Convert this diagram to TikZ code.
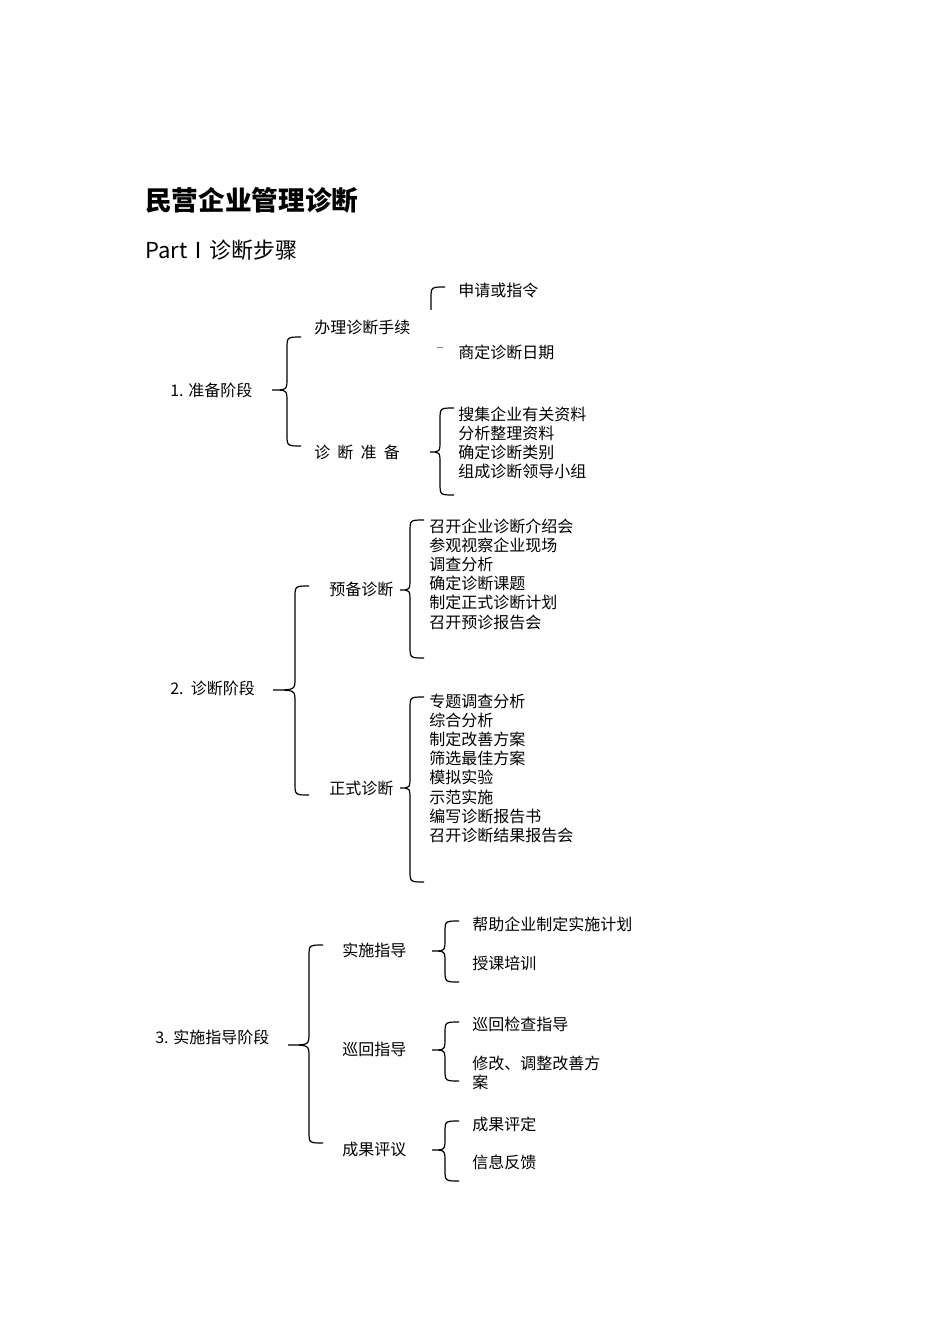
\documentclass[tikz,border=0pt]{standalone}
\usepackage{fontspec}
\setmainfont{Noto Sans CJK SC}
\newcommand\mybrace[5]{% xl, y1, ym, y2, tipdx
 \draw[br] (#1+14,#2) .. controls (#1,#2) .. (#1,#2+12) -- (#1,#3-12) .. controls (#1,#3) .. (#1-#5,#3)
   .. controls (#1,#3) .. (#1,#3+12) -- (#1,#4-12) .. controls (#1,#4) .. (#1+14,#4);}
\begin{document}
\begin{tikzpicture}[x=0.75pt,y=-0.75pt,
 br/.style={line width=0.9pt},
 t/.style={anchor=west,font=\fontsize{12}{14}\selectfont,inner sep=0pt}]
\useasboundingbox (0,0) rectangle (950,1344);
\node[anchor=west,inner sep=0pt,font=\fontsize{20}{24}\selectfont\bfseries] (title) at (145,200) {民营企业管理诊断};
\node[anchor=west,inner sep=0pt,font=\fontsize{16.5}{20}\selectfont] (part) at (145,250) {PartⅠ诊断步骤};
% stage 1
\node[t] (s1) at (170,390) {1. 准备阶段};
\mybrace{287}{337}{390}{446}{15}
\node[t] (a1) at (314,327) {办理诊断手续};
\node[t] (a2) at (314,452) {诊\ \ 断\ \ 准\ \ 备};
\draw[br] (445,287) .. controls (431,287) .. (431,299) -- (431,310);
\draw[line width=0.5pt,gray] (437,347) -- (443,347);
\node[t] at (458,290) {申请或指令};
\node[t] at (458,352) {商定诊断日期};
\mybrace{440}{408}{452}{495}{10}
\foreach \s [count=\i from 0] in {搜集企业有关资料,分析整理资料,确定诊断类别,组成诊断领导小组}
 \node[t] at (458,414+19.3*\i) {\s};
% stage 2
\node[t] (s2) at (170,688) {2.\ \ 诊断阶段};
\mybrace{295}{586}{690}{795}{22}
\node[t] (b1) at (329,589) {预备诊断};
\node[t] (b2) at (329,788) {正式诊断};
\mybrace{410}{520}{590}{658}{10}
\foreach \s [count=\i from 0] in {召开企业诊断介绍会,参观视察企业现场,调查分析,确定诊断课题,制定正式诊断计划,召开预诊报告会}
 \node[t] at (429,526+19.2*\i) {\s};
\mybrace{410}{697}{788}{882}{10}
\foreach \s [count=\i from 0] in {专题调查分析,综合分析,制定改善方案,筛选最佳方案,模拟实验,示范实施,编写诊断报告书,召开诊断结果报告会}
 \node[t] at (429,701+19.2*\i) {\s};
% stage 3
\node[t] (s3) at (155,1037) {3. 实施指导阶段};
\mybrace{309}{945}{1045}{1143}{21}
\node[t] (c1) at (342,950) {实施指导};
\node[t] (c2) at (342,1049) {巡回指导};
\node[t] (c3) at (342,1149) {成果评议};
\mybrace{445}{921}{951}{982}{13}
\node[t] at (472,924) {帮助企业制定实施计划};
\node[t] at (472,963) {授课培训};
\mybrace{445}{1022}{1050}{1081}{13}
\node[t] at (472,1024) {巡回检查指导};
\node[t] at (472,1063) {修改、调整改善方};
\node[t] at (472,1082) {案};
\mybrace{445}{1121}{1150}{1181}{13}
\node[t] at (472,1124) {成果评定};
\node[t] at (472,1162) {信息反馈};
\end{tikzpicture}
\end{document}
